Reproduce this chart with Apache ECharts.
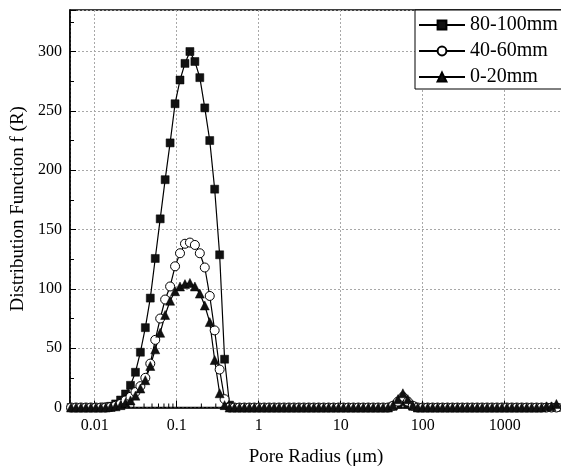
<!DOCTYPE html>
<html>
<head>
<meta charset="utf-8">
<script src="https://cdn.jsdelivr.net/npm/echarts@6/dist/echarts.min.js"></script>
<style>
html,body{margin:0;padding:0;background:#fff;}
#chart{width:561px;height:466px;}
</style>
</head>
<body>
<div id="chart"></div>
<script>
// Pore radius (µm) sample positions
const poreRadius = [0.00515, 0.00592, 0.00680, 0.00782, 0.00898, 0.01032, 0.01186, 0.01363, 0.01567, 0.0180,
  0.02069, 0.02378, 0.02733, 0.03141, 0.03609, 0.04147, 0.04766, 0.05477, 0.06295, 0.07234,
  0.08314, 0.09555, 0.1098, 0.1262, 0.1450, 0.1667, 0.1915, 0.2201, 0.2530, 0.2906,
  0.3340, 0.3839, 0.4412, 0.5070, 0.5826, 0.6696, 0.7694, 0.8844, 1.016, 1.168,
  1.342, 1.542, 1.772, 2.037, 2.341, 2.690, 3.092, 3.553, 4.083, 4.693,
  5.392, 6.197, 7.122, 8.185, 9.406, 10.81, 12.42, 14.28, 16.41, 18.85,
  21.67, 24.90, 28.61, 32.89, 37.79, 43.43, 49.91, 57.35, 65.92, 75.75,
  87.06, 100.0, 115.0, 132.1, 151.8, 174.5, 200.6, 230.5, 264.8, 304.4,
  349.8, 401.9, 462.0, 530.9, 610.0, 701.1, 805.7, 926.1, 1064, 1223,
  1405, 1615, 1856, 2133, 2451, 2817, 3238, 3721, 4275];

const s80_100 = [0, 0, 0, 0, 0, 0, 0, 0.5, 1, 3,
  6.3, 11.4, 18.7, 29.7, 46.6, 67.3, 92.2, 125.6, 159, 192,
  223, 256, 276, 290, 300, 291.6, 278, 252.5, 225, 184,
  128.7, 40.7, 2, 0, 0, 0, 0, 0, 0, 0,
  0, 0, 0, 0, 0, 0, 0, 0, 0, 0,
  0, 0, 0, 0, 0, 0, 0, 0, 0, 0,
  0, 0, 0, 0, 0, 1, 3, 5, 3, 1,
  0, 0, 0, 0, 0, 0, 0, 0, 0, 0,
  0, 0, 0, 0, 0, 0, 0, 0, 0, 0,
  0, 0, 0, 0, 0, 0, 0, 0, 0];

const s40_60 = [0, 0, 0, 0, 0, 0, 0, 0, 0.5, 1.5,
  3, 6, 9, 13, 18, 25, 37, 57, 75, 91,
  102, 119, 130, 138, 139, 137, 130, 118, 94, 65,
  32, 7, 0, 0, 0, 0, 0, 0, 0, 0,
  0, 0, 0, 0, 0, 0, 0, 0, 0, 0,
  0, 0, 0, 0, 0, 0, 0, 0, 0, 0,
  0, 0, 0, 0, 0, 1.5, 5, 9, 5, 1.5,
  0, 0, 0, 0, 0, 0, 0, 0, 0, 0,
  0, 0, 0, 0, 0, 0, 0, 0, 0, 0,
  0, 0, 0, 0, 0, 0, 0, 0, 0];

const s0_20 = [0, 0, 0, 0, 0, 0, 0, 0, 0.5, 1,
  2, 4, 6, 10, 16, 23, 35, 49, 63, 78,
  90, 98, 102, 104, 105, 102, 96, 86, 72, 40,
  12, 2, 0, 0, 0, 0, 0, 0, 0, 0,
  0, 0, 0, 0, 0, 0, 0, 0, 0, 0,
  0, 0, 0, 0, 0, 0, 0, 0, 0, 0,
  0, 0, 0, 0, 0, 2, 7, 12, 7, 2,
  0, 0, 0, 0, 0, 0, 0, 0, 0, 0,
  0, 0, 0, 0, 0, 0, 0, 0, 0, 0,
  0, 0, 0, 0, 0, 0, 1, 1, 3];

const seriesNames = ['80-100mm', '40-60mm', '0-20mm'];
const xTickLabels = ['0.01', '0.1', '1', '10', '100', '1000'];
const xMinorTicks = [0.006, 0.007, 0.008, 0.009,
  0.02, 0.03, 0.04, 0.05, 0.06, 0.07, 0.08, 0.09,
  0.2, 0.3, 0.4, 0.5, 0.6, 0.7, 0.8, 0.9,
  2, 3, 4, 5, 6, 7, 8, 9,
  20, 30, 40, 50, 60, 70, 80, 90,
  200, 300, 400, 500, 600, 700, 800, 900,
  2000, 3000, 4000];

const FONT = 'Liberation Serif';
const pair = arr => arr.map((v, i) => [poreRadius[i], v]);

const chart = echarts.init(document.getElementById('chart'), null, {renderer: 'canvas'});
const lineBase = {
  type: 'line',
  showSymbol: true,
  clip: true,
  lineStyle: {color: '#000', width: 1.2},
  emphasis: {disabled: true}
};

chart.setOption({
  animation: false,
  backgroundColor: '#fff',
  textStyle: {fontFamily: FONT, color: '#000'},
  grid: {
    left: 70, top: 10, width: 492, bottom: 58.5,
    containLabel: false,
    outerBoundsMode: 'none',
    show: true, borderColor: '#000', borderWidth: 1.5, backgroundColor: 'transparent'
  },
  legend: {
    data: seriesNames,
    orient: 'vertical',
    left: 415, top: 10,
    itemWidth: 46, itemHeight: 11, itemGap: 6,
    padding: [5, 6, 2, 3],
    borderColor: '#000', borderWidth: 1,
    backgroundColor: '#fff',
    textStyle: {fontFamily: FONT, fontSize: 20, color: '#000'}
  },
  xAxis: {
    type: 'log', logBase: 10,
    min: 0.005, max: 5000,
    name: 'Pore Radius (μm)',
    nameLocation: 'middle', nameGap: 40,
    nameTextStyle: {fontFamily: FONT, fontSize: 19, color: '#000'},
    axisLine: {show: true, onZero: false, lineStyle: {color: '#000', width: 1.5}},
    axisTick: {show: true, inside: true, length: 7, lineStyle: {color: '#000', width: 1}},
    minorTick: {show: false},
    axisLabel: {
      fontFamily: FONT, fontSize: 16, color: '#000', margin: 10,
      showMinLabel: false, showMaxLabel: false,
      formatter: function (v) {
        const s = String(+Number(v).toPrecision(6));
        return xTickLabels.indexOf(s) >= 0 ? s : '';
      }
    },
    splitLine: {show: true, lineStyle: {color: '#a8a8a8', width: 1, type: [2, 2]}}
  },
  yAxis: {
    type: 'value',
    min: 0, max: 335, interval: 50,
    name: 'Distribution Function f (R)',
    nameLocation: 'middle', nameGap: 34,
    nameTextStyle: {fontFamily: FONT, fontSize: 19, color: '#000'},
    axisLine: {show: true, lineStyle: {color: '#000', width: 1.5}},
    axisTick: {show: true, inside: true, length: 6, lineStyle: {color: '#000', width: 1}},
    minorTick: {show: true, splitNumber: 2, length: 4, lineStyle: {color: '#000', width: 1}},
    axisLabel: {fontFamily: FONT, fontSize: 16, color: '#000', margin: 8, showMaxLabel: false},
    splitLine: {show: true, lineStyle: {color: '#a8a8a8', width: 1, type: [2, 2]}}
  },
  series: [
    Object.assign({}, lineBase, {
      name: seriesNames[0], data: pair(s80_100),
      symbol: 'rect', symbolSize: 8,
      itemStyle: {color: '#111', borderColor: '#000', borderWidth: 0.5}
    }),
    Object.assign({}, lineBase, {
      name: seriesNames[1], data: pair(s40_60),
      symbol: 'circle', symbolSize: 9,
      itemStyle: {color: '#fff', borderColor: '#000', borderWidth: 1}
    }),
    Object.assign({}, lineBase, {
      name: seriesNames[2], data: pair(s0_20),
      symbol: 'triangle', symbolSize: 9,
      itemStyle: {color: '#111', borderColor: '#000', borderWidth: 0.5}
    }),
    {
      type: 'custom',
      name: 'minorTicks',
      silent: true,
      data: xMinorTicks.map(v => [v, 0]),
      encode: {x: 0, y: 1},
      z: 1,
      renderItem: function (params, api) {
        const p = api.coord([api.value(0), 0]);
        return {
          type: 'line',
          shape: {x1: p[0], y1: p[1], x2: p[0], y2: p[1] - 4},
          style: {stroke: '#000', lineWidth: 1}
        };
      }
    }
  ]
});
</script>
</body>
</html>
